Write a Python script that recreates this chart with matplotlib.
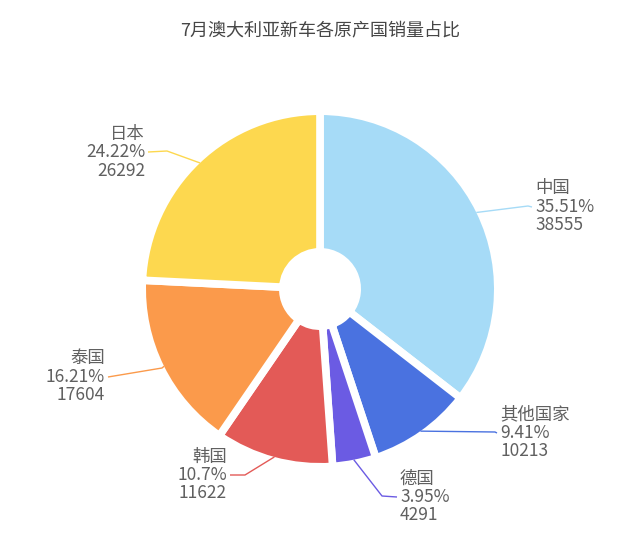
import numpy as np
import matplotlib
matplotlib.use('Agg')
import matplotlib.pyplot as plt

plt.rcParams['font.family'] = ['Noto Sans CJK SC', 'DejaVu Sans']

# data
countries = ['中国', '其他国家', '德国', '韩国', '泰国', '日本']
sales = [38555, 10213, 4291, 11622, 17604, 26292]
percents = ['35.51%', '9.41%', '3.95%', '10.7%', '16.21%', '24.22%']
colors = ['#a6dbf7', '#4a72e0', '#6b5be3', '#e35a57', '#fb9a4b', '#fdd84f']

# label layout (pixels, y measured from top): text anchor x, middle line y, elbow x, side
label_x = [535, 500, 400, 227, 105, 145]
label_y = [207, 433, 497, 475, 377, 152]
elbow_x = [528, 495, 382, 245, 162, 167]
elbow_y = [206, 432, 496, 475, 368, 151]
side = ['left', 'left', 'left', 'right', 'right', 'right']

W, H = 640, 544
cx, cy = 320, 289
r_vis = 174
gap = 5.5  # pt, white border between slices

fig = plt.figure(figsize=(6.4, 5.44), dpi=100)
ax = fig.add_axes([0, 0, 1, 1])
ax.axis('off')

half = gap * 100 / 72 / 2
wedges, _ = ax.pie(sales, colors=colors, startangle=90, counterclock=False,
                   center=(cx, H - cy), radius=r_vis + half,
                   wedgeprops=dict(width=r_vis + half - (41 - half), edgecolor='white',
                                   linewidth=gap, joinstyle='round'))
ax.set_xlim(0, W)
ax.set_ylim(0, H)

text_color = '#606060'
for i, w in enumerate(wedges):
    mid = np.deg2rad((w.theta1 + w.theta2) / 2)
    x0 = cx + r_vis * np.cos(mid)
    y0 = (H - cy) + r_vis * np.sin(mid)
    ex, ey = elbow_x[i], H - elbow_y[i]
    tx = label_x[i] - 3 if side[i] == 'left' else label_x[i] + 3
    ax.plot([x0, ex, tx], [y0, ey, H - label_y[i]], color=colors[i], lw=1.0,
            solid_capstyle='butt')
    lines = [countries[i], percents[i], str(sales[i])]
    for k, s in enumerate(lines):
        ax.text(label_x[i], H - label_y[i] + (1 - k) * 18.5, s, ha=side[i], va='center',
                fontsize=12.5, color=text_color)

fig.text(0.5, 1 - 30 / H, '7月澳大利亚新车各原产国销量占比', ha='center', va='center',
         fontsize=13, color='#464646')

fig.savefig('out.png', dpi=100, facecolor='white')
